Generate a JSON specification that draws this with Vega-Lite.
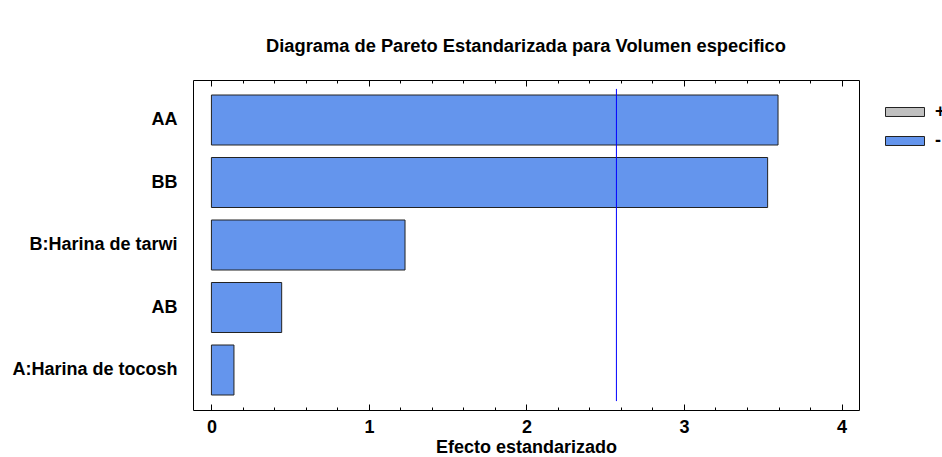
{
  "$schema": "https://vega.github.io/schema/vega-lite/v6.json",
  "width": 666,
  "height": 330,
  "autosize": {"type": "none"},
  "padding": {"left": 193, "top": 80, "right": 83, "bottom": 47},
  "background": "white",
  "title": {
    "text": "Diagrama de Pareto Estandarizada para Volumen especifico",
    "font": "Liberation Sans",
    "fontSize": 18.3,
    "fontWeight": "bold",
    "color": "black",
    "anchor": "middle",
    "offset": 23
  },
  "config": {
    "view": {"stroke": "black", "strokeWidth": 1},
    "axis": {"grid": false, "domain": false, "labelColor": "black", "titleColor": "black", "tickColor": "black", "tickWidth": 1}
  },
  "data": {
    "values": [
      {"efecto": "AA", "valor": 3.597, "signo": "-"},
      {"efecto": "BB", "valor": 3.531, "signo": "-"},
      {"efecto": "B:Harina de tarwi", "valor": 1.229, "signo": "-"},
      {"efecto": "AB", "valor": 0.446, "signo": "-"},
      {"efecto": "A:Harina de tocosh", "valor": 0.143, "signo": "-"}
    ]
  },
  "layer": [
    {
      "mark": {"type": "bar", "stroke": "#222222", "strokeWidth": 1, "opacity": 1},
      "encoding": {
        "y": {
          "field": "efecto",
          "type": "nominal",
          "sort": ["AA", "BB", "B:Harina de tarwi", "AB", "A:Harina de tocosh"],
          "scale": {"paddingInner": 0.2, "paddingOuter": 0.24},
          "axis": {
            "title": null,
            "ticks": false,
            "domain": false,
            "labelPadding": 16,
            "labelFont": "Liberation Sans",
            "labelFontSize": 18,
            "labelFontWeight": "bold",
            "labelLimit": 300
          }
        },
        "x": {
          "field": "valor",
          "type": "quantitative",
          "scale": {"domain": [-0.117, 4.111], "nice": false, "zero": false},
          "axis": {
            "orient": "bottom",
            "values": [0, 1, 2, 3, 4],
            "format": "d",
            "ticks": false,
            "labelPadding": 8,
            "labelFlush": false,
            "labelFont": "Liberation Sans",
            "labelFontSize": 18,
            "labelFontWeight": "bold",
            "title": "Efecto estandarizado",
            "titleFont": "Liberation Sans",
            "titleFontSize": 18,
            "titleFontWeight": "bold",
            "titlePadding": 2
          }
        },
        "color": {
          "field": "signo",
          "type": "nominal",
          "scale": {"domain": ["+", "-"], "range": ["#c0c0c0", "#6495ed"]},
          "legend": {
            "orient": "none",
            "legendX": 692,
            "legendY": 12,
            "title": null,
            "padding": 0,
            "symbolType": "M-1,-0.23H1V0.23H-1Z",
            "symbolSize": 1521,
            "symbolStrokeColor": "#222222",
            "symbolStrokeWidth": 1,
            "symbolOpacity": 1,
            "labelFont": "Liberation Sans",
            "labelFontSize": 18,
            "labelFontWeight": "bold",
            "labelColor": "black",
            "labelOffset": 10,
            "rowPadding": -22
          }
        }
      }
    },
    {
      "data": {"values": [{"t_critico": 2.571}]},
      "mark": {"type": "rule", "color": "#0000ff", "strokeWidth": 1},
      "encoding": {
        "x": {
          "field": "t_critico",
          "type": "quantitative",
          "scale": {"domain": [-0.117, 4.111], "nice": false, "zero": false},
          "axis": {"orient": "bottom", "values": [0, 1, 2, 3, 4], "labels": false, "domain": false, "title": null, "tickSize": -6}
        },
        "y": {"datum": 0.027, "type": "quantitative", "scale": {"domain": [0, 1]}, "axis": null},
        "y2": {"datum": 0.973}
      }
    },
    {
      "data": {"values": [{"t_critico": 2.571}]},
      "mark": {"type": "rule", "opacity": 0},
      "encoding": {
        "x": {
          "field": "t_critico",
          "type": "quantitative",
          "scale": {"domain": [-0.117, 4.111], "nice": false, "zero": false},
          "axis": {"orient": "bottom", "values": [0, 0.2, 0.4, 0.6, 0.8, 1.2, 1.4, 1.6, 1.8, 2.2, 2.4, 2.6, 2.8, 3.2, 3.4, 3.6, 3.8], "labels": false, "domain": false, "title": null, "tickSize": -3}
        },
        "y": {"datum": 0.027, "type": "quantitative", "scale": {"domain": [0, 1]}, "axis": null},
        "y2": {"datum": 0.973}
      }
    },
    {
      "data": {"values": [{"t_critico": 2.571}]},
      "mark": {"type": "rule", "opacity": 0},
      "encoding": {
        "x": {
          "field": "t_critico",
          "type": "quantitative",
          "scale": {"domain": [-0.117, 4.111], "nice": false, "zero": false},
          "axis": {"orient": "top", "values": [0, 1, 2, 3, 4], "labels": false, "domain": false, "title": null, "tickSize": -6}
        },
        "y": {"datum": 0.027, "type": "quantitative", "scale": {"domain": [0, 1]}, "axis": null},
        "y2": {"datum": 0.973}
      }
    },
    {
      "data": {"values": [{"t_critico": 2.571}]},
      "mark": {"type": "rule", "opacity": 0},
      "encoding": {
        "x": {
          "field": "t_critico",
          "type": "quantitative",
          "scale": {"domain": [-0.117, 4.111], "nice": false, "zero": false},
          "axis": {"orient": "top", "values": [0.2, 0.4, 0.6, 0.8, 1.2, 1.4, 1.6, 1.8, 2.2, 2.4, 2.6, 2.8, 3.2, 3.4, 3.6, 3.8, 4], "labels": false, "domain": false, "title": null, "tickSize": -3}
        },
        "y": {"datum": 0.027, "type": "quantitative", "scale": {"domain": [0, 1]}, "axis": null},
        "y2": {"datum": 0.973}
      }
    }
  ],
  "resolve": {"scale": {"y": "independent"}, "axis": {"x": "independent"}}
}
